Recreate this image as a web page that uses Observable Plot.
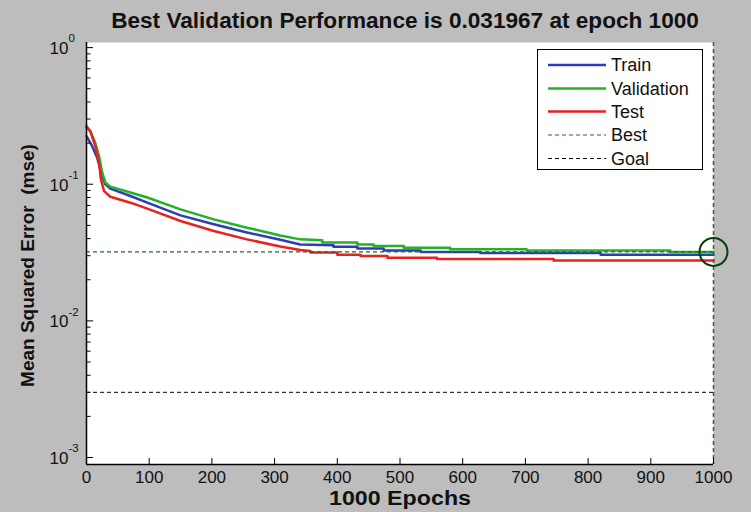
<!DOCTYPE html>
<html><head><meta charset="utf-8">
<script src="https://cdn.jsdelivr.net/npm/d3@7"></script>
<script src="https://cdn.jsdelivr.net/npm/@observablehq/plot@0.6"></script>
<style>
html,body{margin:0;padding:0;background:#bdbdbd;}
#wrap{position:relative;width:751px;height:512px;overflow:hidden;}
#legend{position:absolute;left:537px;top:49px;width:166px;height:121px;box-sizing:border-box;background:#fff;border:1px solid #000;}
text{font-family:"Liberation Sans",Arial,sans-serif;}
</style></head><body><div id="wrap"></div>
<script>
// ---- data ----
const titleText = "Best Validation Performance is 0.031967 at epoch 1000";
const xLabel = "1000 Epochs";
const yLabel = "Mean Squared Error  (mse)";

const trainEpoch = [0, 9, 17, 25, 30, 38, 70, 97, 150, 203, 256, 309, 341, 394, 394, 432, 432, 474, 474, 533, 533, 628, 628, 820, 820, 1000];
const trainMse   = [0.225, 0.19, 0.156, 0.115, 0.1, 0.093, 0.082, 0.0733, 0.0592, 0.0509, 0.0443, 0.0392, 0.0362, 0.0357, 0.0349, 0.0349, 0.0338, 0.0338, 0.0327, 0.0327, 0.0319, 0.0319, 0.0314, 0.0314, 0.0305, 0.0305];

const valEpoch = [0, 6, 14, 20, 25, 30, 38, 70, 97, 150, 203, 256, 309, 341, 376, 376, 432, 432, 458, 458, 506, 506, 580, 580, 702, 702, 931, 931, 1000];
const valMse   = [0.267, 0.245, 0.201, 0.161, 0.122, 0.103, 0.096, 0.087, 0.080, 0.0655, 0.0553, 0.0481, 0.0422, 0.0395, 0.0389, 0.0374, 0.0374, 0.0363, 0.0363, 0.0353, 0.0353, 0.0343, 0.0343, 0.0334, 0.0334, 0.0328, 0.0328, 0.031967, 0.031967];

const testEpoch = [0, 6, 14, 20, 23, 28, 38, 70, 97, 150, 203, 256, 309, 341, 357, 357, 400, 400, 437, 437, 480, 480, 559, 559, 745, 745, 1000];
const testMse   = [0.259, 0.245, 0.19, 0.144, 0.109, 0.089, 0.081, 0.0733, 0.0663, 0.0538, 0.0455, 0.0395, 0.0350, 0.0330, 0.0325, 0.0316, 0.0316, 0.0305, 0.0305, 0.0298, 0.0298, 0.029, 0.029, 0.0284, 0.0284, 0.0277, 0.0277];

const bestEpoch = 1000;
const bestMse = 0.031967;
const goalMse = 0.003;

const xTicks = [0, 100, 200, 300, 400, 500, 600, 700, 800, 900, 1000];
const yMajor = [1, 0.1, 0.01, 0.001];
const yMinor = [0.9,0.8,0.7,0.6,0.5,0.4,0.3,0.2, 0.09,0.08,0.07,0.06,0.05,0.04,0.03,0.02, 0.009,0.008,0.007,0.006,0.005,0.004,0.003,0.002];
const xDomain = [0, 1000];
const yDomain = [0.000889, 1.09];

const seriesNames = ["Train", "Validation", "Test"];
const seriesColors = ["#2e3db5", "#22b22a", "#e8221f"];
const bestColor = "#2a662a";
const goalColor = "#000000";
const legendLabels = ["Train", "Validation", "Test", "Best", "Goal"];
const legendColors = [...seriesColors, bestColor, goalColor];
const legendDashed = [false, false, false, true, true];

// ---- build ----
const toRows = (name, ep, v) => ep.map((e, i) => ({series: name, epoch: e, mse: v[i]}));
const trainRows = toRows("Train", trainEpoch, trainMse);
const valRows = toRows("Validation", valEpoch, valMse);
const testRows = toRows("Test", testEpoch, testMse);

const W = 751, H = 512, mL = 86, mR = 38, mT = 42, mB = 48;
const frameW = W - mL - mR, frameH = H - mT - mB;
const font = "Liberation Sans, Arial, sans-serif";

const chart = Plot.plot({
  width: W, height: H,
  marginLeft: mL, marginRight: mR, marginTop: mT, marginBottom: mB,
  style: {background: "transparent", fontFamily: font, color: "#000", overflow: "visible"},
  x: {domain: xDomain, axis: null},
  y: {type: "log", domain: yDomain, axis: null},
  marks: [
    Plot.frame({fill: "#fff", stroke: "none"}),
    Plot.ruleY([goalMse], {stroke: goalColor, strokeWidth: 1, strokeDasharray: "4,3"}),
    Plot.line(trainRows, {x: "epoch", y: "mse", stroke: seriesColors[0], strokeWidth: 2.5}),
    Plot.line(valRows, {x: "epoch", y: "mse", stroke: seriesColors[1], strokeWidth: 2.5}),
    Plot.line(testRows, {x: "epoch", y: "mse", stroke: seriesColors[2], strokeWidth: 2.5}),
    Plot.ruleY([bestMse], {stroke: bestColor, strokeWidth: 1.2, strokeDasharray: "4,3"}),
    Plot.ruleX([bestEpoch], {stroke: bestColor, strokeWidth: 1.5, strokeDasharray: "4,3"}),
    Plot.dot([{e: bestEpoch, m: bestMse}], {x: "e", y: "m", r: 14, stroke: "#0b3d0b", strokeWidth: 2, fill: "none"}),
    Plot.ruleX([xDomain[0]], {stroke: "#000", strokeWidth: 1.5}),
    Plot.ruleY([yDomain[0]], {stroke: "#000", strokeWidth: 1.5}),
    Plot.tickX(xTicks, {x: d => d, stroke: "#000", insetTop: frameH - 6}),
    Plot.tickY(yMajor, {y: d => d, stroke: "#000", insetRight: frameW - 7}),
    Plot.tickY(yMinor, {y: d => d, stroke: "#000", insetRight: frameW - 4.5}),
    Plot.text(xTicks, {x: d => d, text: d => String(d), frameAnchor: "bottom", lineAnchor: "middle", dy: 13, fontSize: 17, fill: "#111"}),
    Plot.text(yMajor, {y: d => d, text: () => "10", frameAnchor: "left", textAnchor: "end", lineAnchor: "middle", dx: -18, dy: 1, fontSize: 17, fill: "#111"}),
    Plot.text(yMajor, {y: d => d, text: d => String(Math.round(Math.log10(d))), frameAnchor: "left", textAnchor: "start", lineAnchor: "middle", dx: -18, dy: -9, fontSize: 11.5, fill: "#111"}),
    Plot.text([titleText], {frameAnchor: "top", textAnchor: "middle", lineAnchor: "middle", dx: 5, dy: -22, fontSize: 22.6, fontWeight: "bold", fill: "#111"}),
    Plot.text([xLabel], {frameAnchor: "bottom", textAnchor: "middle", lineAnchor: "middle", dy: 34, fontSize: 20, fontWeight: "bold", fill: "#111", className: "xlab"}),
    Plot.text([yLabel], {frameAnchor: "left", textAnchor: "middle", lineAnchor: "middle", dx: -59, dy: 12, rotate: -90, fontSize: 19, fontWeight: "bold", fill: "#111"})
  ]
});
d3.select(chart).selectAll(".xlab text").attr("textLength", 142).attr("lengthAdjust", "spacingAndGlyphs");

const wrap = document.getElementById("wrap");
wrap.appendChild(chart);

const lg = document.createElement("div");
lg.id = "legend";
const rowY = [15, 38.5, 61.5, 85, 108.5];
let svg = `<svg width="164" height="119" xmlns="http://www.w3.org/2000/svg">`;
legendLabels.forEach((lab, i) => {
  const y = rowY[i];
  svg += `<line x1="10" x2="68" y1="${y}" y2="${y}" stroke="${legendColors[i]}" stroke-width="${legendDashed[i] ? 1.2 : 2.5}" ${legendDashed[i] ? 'stroke-dasharray="4,3"' : ''}/>`;
  svg += `<text x="73" y="${y}" dy="0.35em" font-size="18" fill="#111" style="font-family:${font}">${lab}</text>`;
});
svg += `</svg>`;
lg.innerHTML = svg;
wrap.appendChild(lg);
</script>
</body></html>
